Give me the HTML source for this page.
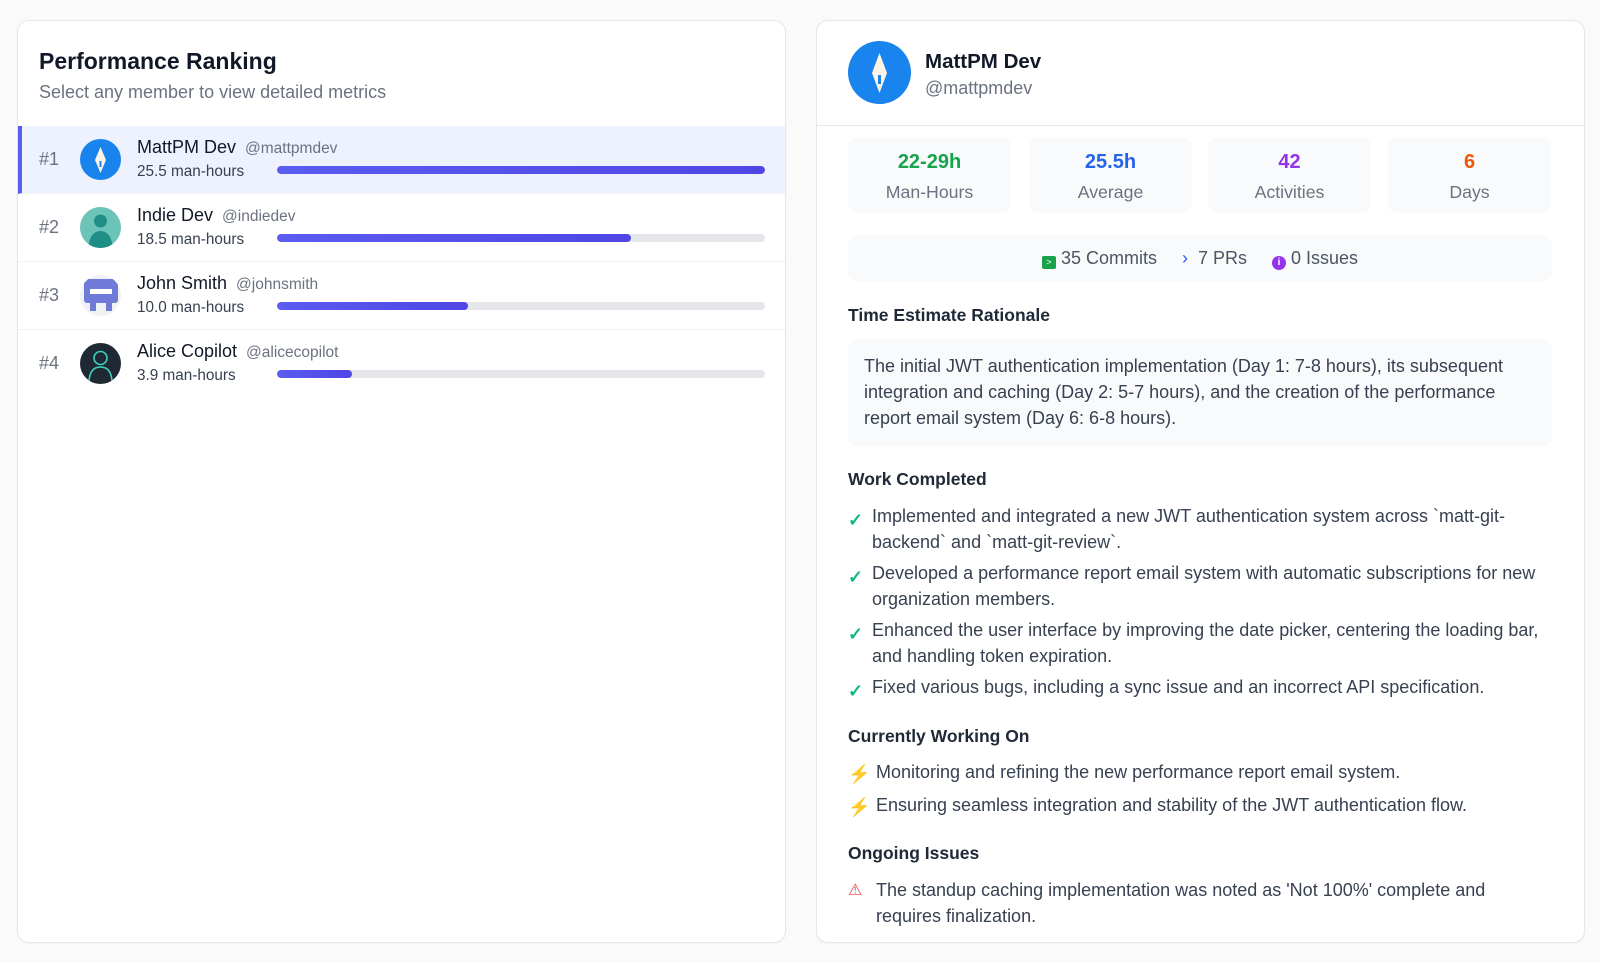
<!DOCTYPE html>
<html><head><meta charset="utf-8"><style>
*{box-sizing:border-box;margin:0;padding:0}
body{width:1600px;height:963px;background:#fafafa;font-family:"Liberation Sans",Arial,sans-serif;position:relative;overflow:hidden;color:#111827}
.card{position:absolute;top:20px;height:923px;width:769px;background:#fff;border:1px solid #e5e7eb;border-radius:12px;overflow:hidden;box-shadow:0 1px 2px rgba(0,0,0,.04)}
.a{position:absolute;white-space:nowrap}
.row{position:absolute;left:0;width:100%;height:68px;border-bottom:1px solid #f0f1f3}
.rank{position:absolute;left:21px;top:23px;font-size:18px;color:#6b7280}
.av{position:absolute;left:62px;top:13px;width:41px;height:41px;border-radius:50%;overflow:hidden}
.nm{position:absolute;left:119px;top:11px;font-size:18px;color:#111827}
.nm span{color:#6b7280;font-size:15.5px;margin-left:9px}
.mh{position:absolute;left:119px;top:37px;font-size:15.3px;color:#374151}
.bar{position:absolute;left:259px;top:40px;width:488px;height:8px;border-radius:4px;background:#e5e7eb;overflow:hidden}
.bar i{display:block;height:100%;border-radius:4px;background:linear-gradient(90deg,#5b5cf0,#4f46e5)}
.stat{position:absolute;top:116px;width:163px;height:76px;background:#f9fafb;border-radius:10px;text-align:center}
.stat b{display:block;font-size:20px;margin-top:14px}
.stat span{display:block;font-size:17.7px;color:#6b7280;margin-top:8px}
.h{position:absolute;left:31px;font-size:17.5px;font-weight:bold;color:#1f2937}
.li{position:absolute;left:31px;font-size:18px;color:#374151;line-height:26px;width:700px}
.li .ic{position:absolute;left:0;top:0}
.li .t{position:absolute;left:24px;white-space:nowrap}
</style></head><body>

<div class="card" style="left:17px">
  <div class="a" style="left:21px;top:27px;font-size:23px;font-weight:bold;color:#111827">Performance Ranking</div>
  <div class="a" style="left:21px;top:61px;font-size:18px;color:#6b7280">Select any member to view detailed metrics</div>

  <div class="row" style="top:105px;background:#eef2ff;border-left:4px solid #5b5cf0">
    <div class="rank" style="left:17px">#1</div>
    <div class="av" style="left:58px;background:#1a84ee"><svg width="41" height="41"><path d="M20.5 8 L26 21 L20.5 34 L15 21Z" fill="#fdf4e6"/><rect x="19.5" y="22" width="2" height="6" fill="#1a84ee"/></svg></div>
    <div class="nm" style="left:115px">MattPM Dev<span>@mattpmdev</span></div>
    <div class="mh" style="left:115px">25.5 man-hours</div>
    <div class="bar" style="left:255px"><i style="width:100%"></i></div>
  </div>
  <div class="row" style="top:173px">
    <div class="rank">#2</div>
    <div class="av" style="background:#6cc4b8"><svg width="41" height="41"><circle cx="20.5" cy="14" r="6.5" fill="#1f8f86"/><path d="M8 41 Q10 24 20.5 24 Q31 24 33 41Z" fill="#1f8f86"/></svg></div>
    <div class="nm">Indie Dev<span>@indiedev</span></div>
    <div class="mh">18.5 man-hours</div>
    <div class="bar"><i style="width:72.5%"></i></div>
  </div>
  <div class="row" style="top:241px">
    <div class="rank">#3</div>
    <div class="av" style="background:#f1f2f6"><svg width="41" height="41"><rect x="4" y="4" width="34" height="24" rx="3" fill="#6f7bd6"/><rect x="10" y="14" width="22" height="5" fill="#fff"/><rect x="10" y="28" width="6" height="8" fill="#6f7bd6"/><rect x="26" y="28" width="6" height="8" fill="#6f7bd6"/></svg></div>
    <div class="nm">John Smith<span>@johnsmith</span></div>
    <div class="mh">10.0 man-hours</div>
    <div class="bar"><i style="width:39.2%"></i></div>
  </div>
  <div class="row" style="top:309px;border-bottom:none">
    <div class="rank">#4</div>
    <div class="av" style="background:#1f2933"><svg width="41" height="41"><circle cx="20.5" cy="15" r="6.5" fill="none" stroke="#3fd1c0" stroke-width="1.6"/><path d="M9 38 Q10 24 20.5 24 Q31 24 32 38" fill="none" stroke="#3fd1c0" stroke-width="1.6"/></svg></div>
    <div class="nm">Alice Copilot<span>@alicecopilot</span></div>
    <div class="mh">3.9 man-hours</div>
    <div class="bar"><i style="width:15.3%"></i></div>
  </div>
</div>

<div class="card" style="left:816px">
  <div class="a" style="left:31px;top:20px;width:63px;height:63px;border-radius:50%;background:#1a84ee"><svg width="63" height="63"><path d="M31.5 12 L39 32 L31.5 52 L24 32Z" fill="#fdf4e6"/><rect x="30" y="34" width="3" height="9" fill="#1a84ee"/></svg></div>
  <div class="a" style="left:108px;top:29px;font-size:20.5px;font-weight:bold;color:#111827">MattPM Dev</div>
  <div class="a" style="left:108px;top:57px;font-size:18px;color:#6b7280">@mattpmdev</div>
  <div class="a" style="left:0;top:104px;width:100%;height:1px;background:#e5e7eb"></div>

  <div class="stat" style="left:31px"><b style="color:#16a34a">22-29h</b><span>Man-Hours</span></div>
  <div class="stat" style="left:212px"><b style="color:#2563eb">25.5h</b><span>Average</span></div>
  <div class="stat" style="left:391px"><b style="color:#9333ea">42</b><span>Activities</span></div>
  <div class="stat" style="left:571px"><b style="color:#ea580c">6</b><span>Days</span></div>

  <div class="a" style="left:31px;top:214px;width:704px;height:46px;background:#f9fafb;border-radius:10px;font-size:18px;color:#4b5563;text-align:center;line-height:46px">
    <span style="display:inline-block;width:14px;height:13px;background:#16a34a;border-radius:2px;vertical-align:-1px;color:#fff;font-size:9px;line-height:13px">&gt;</span> 35 Commits
    <span style="color:#2563eb;margin-left:20px">›</span>&nbsp; 7 PRs
    <span style="display:inline-block;width:14px;height:14px;background:#9333ea;border-radius:50%;vertical-align:-1px;color:#fff;font-size:10px;line-height:14px;font-weight:bold;margin-left:20px">i</span> 0 Issues
  </div>

  <div class="h" style="top:284px">Time Estimate Rationale</div>
  <div class="a" style="left:31px;top:318px;width:704px;height:108px;background:#f9fafb;border-radius:10px;padding:14px 16px;font-size:18px;color:#374151;line-height:26px;white-space:normal">The initial JWT authentication implementation (Day 1: 7-8 hours), its subsequent integration and caching (Day 2: 5-7 hours), and the creation of the performance report email system (Day 6: 6-8 hours).</div>

  <div class="h" style="top:448px">Work Completed</div>
  <div class="li" style="top:482px"><span class="ic" style="color:#10b981;font-weight:bold;top:4px">✓</span><span class="t">Implemented and integrated a new JWT authentication system across `matt-git-</span><span class="t" style="top:26px">backend` and `matt-git-review`.</span></div>
  <div class="li" style="top:539px"><span class="ic" style="color:#10b981;font-weight:bold;top:4px">✓</span><span class="t">Developed a performance report email system with automatic subscriptions for new</span><span class="t" style="top:26px">organization members.</span></div>
  <div class="li" style="top:596px"><span class="ic" style="color:#10b981;font-weight:bold;top:4px">✓</span><span class="t">Enhanced the user interface by improving the date picker, centering the loading bar,</span><span class="t" style="top:26px">and handling token expiration.</span></div>
  <div class="li" style="top:653px"><span class="ic" style="color:#10b981;font-weight:bold;top:4px">✓</span><span class="t">Fixed various bugs, including a sync issue and an incorrect API specification.</span></div>

  <div class="h" style="top:705px">Currently Working On</div>
  <div class="li" style="top:738px"><span class="ic" style="color:#fbbf24;top:2px">⚡</span><span class="t" style="left:28px">Monitoring and refining the new performance report email system.</span></div>
  <div class="li" style="top:771px"><span class="ic" style="color:#fbbf24;top:2px">⚡</span><span class="t" style="left:28px">Ensuring seamless integration and stability of the JWT authentication flow.</span></div>

  <div class="h" style="top:822px">Ongoing Issues</div>
  <div class="li" style="top:856px"><span class="ic" style="color:#ef4444;top:1px;font-size:16px">⚠</span><span class="t" style="left:28px">The standup caching implementation was noted as 'Not 100%' complete and</span><span class="t" style="left:28px;top:26px">requires finalization.</span></div>
</div>
</body></html>
